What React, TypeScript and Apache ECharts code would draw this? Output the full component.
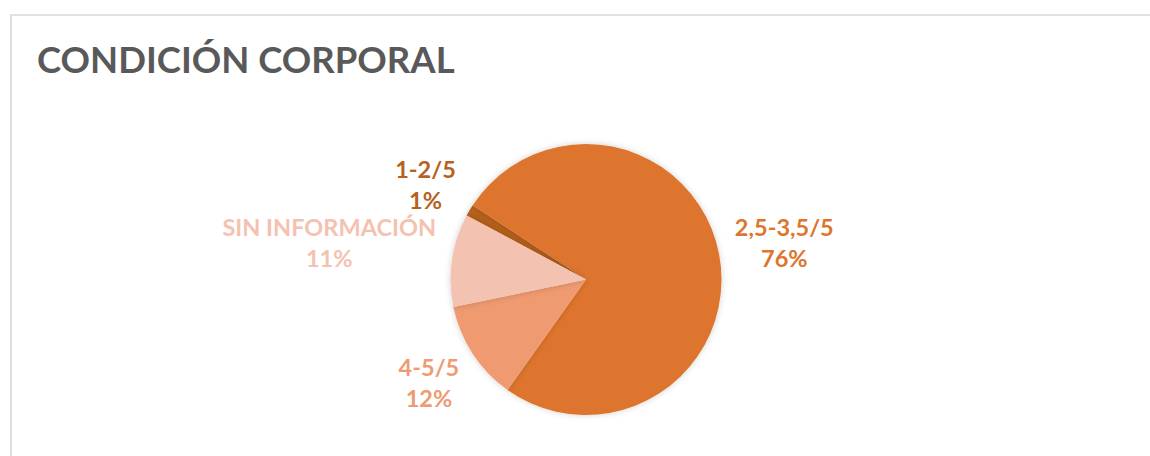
import React, { useEffect, useRef } from "react";
import * as echarts from "echarts";

const titleText = "CONDICIÓN CORPORAL";
const categories = ["1-2/5", "2,5-3,5/5", "4-5/5", "SIN INFORMACIÓN"];
const values = [1.4, 75.6, 11.9, 11.1];
const colors = ["#B7611F", "#DE752D", "#EF9A71", "#F4C2B0"];

export default function App() {
  const ref = useRef<HTMLDivElement>(null);
  useEffect(() => {
    if (!ref.current) return;
    const chart = echarts.init(ref.current, null, { renderer: "svg" });
    const font = "Lato, 'Open Sans', sans-serif";
    chart.setOption({
      animation: false,
      backgroundColor: "#ffffff",
      title: {
        text: titleText,
        left: 32,
        top: 32,
        textStyle: {
          fontFamily: font,
          fontSize: 36.5,
          fontWeight: "bold",
          color: "#595959",
          lineHeight: 44,
        },
      },
      graphic: [
        {
          type: "rect",
          shape: { x: 11, y: 15, width: 1300, height: 600 },
          style: { fill: "none", stroke: "#d9d9d9", lineWidth: 1.6 },
          silent: true,
          z: -1,
        },
      ],
      series: [
        {
          type: "pie",
          center: [586, 279.5],
          radius: 135.5,
          startAngle: 151.8,
          clockwise: true,
          avoidLabelOverlap: false,
          percentPrecision: 0,
          itemStyle: {
            borderWidth: 0,
            shadowBlur: 6,
            shadowColor: "rgba(0,0,0,0.18)",
          },
          label: {
            show: true,
            position: "outside",
            fontFamily: font,
            formatter: "{n|{b}}\n{p|{d}%}",
            rich: {
              n: { fontFamily: font, fontSize: 23.5, fontWeight: "bold", lineHeight: 31, align: "center" },
              p: { fontFamily: font, fontSize: 23.5, fontWeight: "bold", lineHeight: 31, align: "center" },
            },
          },
          labelLine: {
            show: true,
            length: 10,
            length2: 0,
            lineStyle: { opacity: 0, width: 0 },
          },
          labelLayout: (params: any) => {
            const pts = params.labelLinePoints;
            if (!pts || pts.length < 2) return {};
            const p1 = pts[0];
            const p2 = pts[1];
            let dx = p2[0] - p1[0];
            let dy = p2[1] - p1[1];
            const len = Math.hypot(dx, dy) || 1;
            dx /= len;
            dy /= len;
            const w = params.labelRect.width;
            const h = params.labelRect.height - 12;
            const ext = Math.min(
              w / 2 / Math.max(Math.abs(dx), 1e-6),
              h / 2 / Math.max(Math.abs(dy), 1e-6)
            );
            const gap = 16;
            return {
              x: p1[0] + dx * (gap + ext),
              y: p1[1] + dy * (gap + ext),
              align: "center",
              verticalAlign: "middle",
            };
          },
          data: categories.map((name, i) => ({
            name,
            value: values[i],
            itemStyle: { color: colors[i] },
            label: { color: colors[i] },
          })),
        },
      ],
    });
    return () => chart.dispose();
  }, []);
  return (
    <div
      ref={ref}
      style={{ position: "fixed", left: 0, top: 0, width: 1150, height: 456 }}
    />
  );
}
